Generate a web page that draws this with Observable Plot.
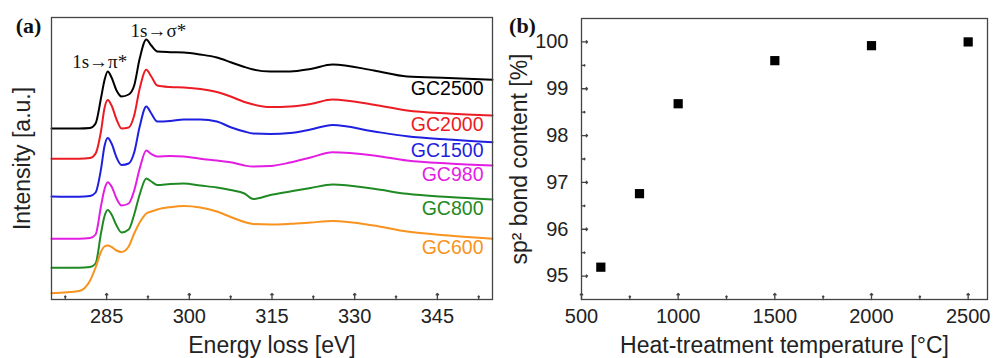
<!DOCTYPE html>
<html><head><meta charset="utf-8">
<script src="https://cdn.jsdelivr.net/npm/d3@7"></script>
<script src="https://cdn.jsdelivr.net/npm/@observablehq/plot@0.6"></script>
<style>
body{margin:0;background:#fff}
#wrap{display:flex;width:999px;height:358px;overflow:hidden}
</style>
</head><body><div id="wrap"></div>
<script>
// ---- Panel (a): EELS spectra (arbitrary intensity units) ----
const energy = [275, 280, 282, 283, 284, 284.6, 285.2, 285.9, 286.8, 287.7, 289, 290, 291, 292.2, 293.1, 294.2, 296.5, 299, 302, 305, 307.5, 310, 311.6, 314.7, 318.3, 322, 326, 333.5, 339.5, 347, 355];
const GC2500 = [171, 171, 171.5, 176, 202, 219, 228, 222, 209, 203, 205, 214, 241, 260, 254, 248, 247.3, 247, 245, 242, 237.3, 232.5, 230, 228, 228, 230.5, 235, 229, 223, 221.5, 219.7];
const GC2000 = [140.7, 140.7, 141.5, 146, 169, 191, 199.5, 194, 180, 171, 172, 184, 211, 229.7, 223, 214, 212.5, 212, 210.5, 207.5, 203, 197.5, 195, 192.5, 193, 195.5, 200, 194.7, 189, 186, 184];
const GC1500 = [103, 102.7, 103.5, 107, 131, 153, 161.5, 156, 142, 134.5, 136, 147, 173, 193, 186, 178, 178.5, 180, 180, 178, 172.3, 168, 166, 165.5, 166.5, 170, 174.5, 168, 163.3, 160, 157.3];
const GC980  = [60.7, 60.7, 61.5, 65, 94, 110, 117.3, 113, 101, 94, 96, 109, 131, 149, 145.5, 143, 143.5, 143, 140.7, 139, 137.3, 134, 133, 133.5, 137, 142, 147.3, 144, 139, 136, 134];
const GC800  = [31.7, 31.7, 32.5, 36, 67, 83, 89.5, 85, 74, 67, 70, 85, 105, 121, 118, 114.5, 115.5, 116, 114, 112, 109.5, 106, 100.5, 104.5, 108, 111.5, 115, 110.7, 105.7, 102.5, 100];
const GC600  = [6.3, 8.5, 19, 32, 48, 53, 54, 52.5, 49, 47.5, 53, 66, 77, 86, 88, 90, 92.3, 93.5, 92, 88, 82.5, 77.5, 75.5, 75, 75.7, 77, 78.5, 74, 68, 64, 60.7];
const seriesNames = ["GC2500", "GC2000", "GC1500", "GC980", "GC800", "GC600"];
const seriesValues = [GC2500, GC2000, GC1500, GC980, GC800, GC600];
const seriesColors = ["#000000", "#ec1c24", "#1f1fe0", "#e31ee3", "#1f8a24", "#f7931e"];
const xTicksA = [285, 300, 315, 330, 345];
const xMinorA = [277.5, 292.5, 307.5, 322.5, 337.5, 352.5];
const peakLabels = ["1s\u2192\u03c0*", "1s\u2192\u03c3*"];

// ---- Panel (b): sp2 content ----
const temperature = [600, 800, 1000, 1500, 2000, 2500];
const sp2Content = [95.19, 96.76, 98.68, 99.60, 99.92, 100.0];
const xTicksB = [500, 1000, 1500, 2000, 2500];
const xMinorB = [750, 1250, 1750, 2250];
const yTicksB = [95, 96, 97, 98, 99, 100];
const yMinorB = [95.5, 96.5, 97.5, 98.5, 99.5];

const SANS = "'Liberation Sans', Arial, sans-serif";
const SERIF = "'Liberation Serif', 'Times New Roman', serif";
const INK = "#222";
const FRAME = "#444";
const plain = d => String(d);

// inward tick marks drawn as short vectors from the frame edge
const ticksBottom = (values, len) => Plot.vector(values, {x: d => d, frameAnchor: "bottom", rotate: 0, length: len, anchor: "start", stroke: FRAME, strokeWidth: 1.3});
const ticksLeft = (values, len) => Plot.vector(values, {y: d => d, frameAnchor: "left", rotate: 90, length: len, anchor: "start", stroke: FRAME, strokeWidth: 1.3});

const rows = seriesNames.flatMap((s, i) => energy.map((e, j) => ({series: s, energy: e, value: seriesValues[i][j]})));
const endRows = seriesNames.map((s, i) => ({series: s, energy: energy[energy.length - 1], value: seriesValues[i][seriesValues[i].length - 1]}));
// peak positions of the top spectrum
const piIdx = d3.maxIndex(energy.map((e, j) => e < 288 ? GC2500[j] : -Infinity));
const sigIdx = d3.maxIndex(GC2500);
const peakRows = [
  {label: peakLabels[0], energy: energy[piIdx], value: GC2500[piIdx], dx: -8, dy: -10},
  {label: peakLabels[1], energy: energy[sigIdx], value: GC2500[sigIdx], dx: 12, dy: -9}
];

const plotA = Plot.plot({
  width: 500, height: 358,
  marginLeft: 51, marginRight: 8, marginTop: 17, marginBottom: 59,
  style: {fontFamily: SANS, fontSize: "19px", color: INK, background: "#fff"},
  x: {domain: [275, 355]},
  y: {domain: [0, 282], axis: null},
  color: {domain: seriesNames, range: seriesColors},
  marks: [
    Plot.axisX(xTicksA, {tickSize: 0, tickPadding: 9, fontSize: 20, tickFormat: plain, label: null}),
    ticksBottom(xTicksA, 6),
    ticksBottom(xMinorA, 3.5),
    Plot.line(rows, {x: "energy", y: "value", z: "series", stroke: "series", strokeWidth: 2, curve: "monotone-x"}),
    Plot.frame({stroke: FRAME, strokeWidth: 1.3}),
    Plot.text(endRows, {frameAnchor: "right", y: "value", text: "series", fill: "series", textAnchor: "end", lineAnchor: "middle", dx: -9, dy: 9, fontSize: 19.5}),
    ...peakRows.map(p => Plot.text([p], {x: "energy", y: "value", text: "label", fontFamily: SERIF, fontSize: 19, fill: "#111", textAnchor: "middle", lineAnchor: "middle", dx: p.dx, dy: p.dy})),
    Plot.text(["(a)"], {frameAnchor: "top-left", dx: -23, dy: 8, fontFamily: SERIF, fontWeight: "bold", fontSize: 22, fill: "#111", textAnchor: "middle", lineAnchor: "middle"}),
    Plot.text(["Energy loss [eV]"], {frameAnchor: "bottom", dy: 46, fontSize: 23, fill: INK, textAnchor: "middle", lineAnchor: "middle"}),
    Plot.text(["Intensity [a.u.]"], {frameAnchor: "left", dx: -29, rotate: -90, fontSize: 23, fill: INK, textAnchor: "middle", lineAnchor: "middle"})
  ]
});

const plotB = Plot.plot({
  width: 499, height: 358,
  marginLeft: 81, marginRight: 12, marginTop: 18, marginBottom: 59,
  style: {fontFamily: SANS, fontSize: "19px", color: INK, background: "#fff"},
  x: {domain: [500, 2600]},
  y: {domain: [94.5, 100.5]},
  marks: [
    Plot.axisX(xTicksB, {tickSize: 0, tickPadding: 9, fontSize: 20, tickFormat: plain, label: null}),
    Plot.axisY(yTicksB, {tickSize: 0, tickPadding: 13, fontSize: 20, tickFormat: plain, label: null}),
    ticksBottom(xTicksB, 6),
    ticksBottom(xMinorB, 3.5),
    ticksLeft(yTicksB, 6),
    ticksLeft(yMinorB, 3.5),
    Plot.frame({stroke: FRAME, strokeWidth: 1.3}),
    Plot.dot(temperature.map((t, i) => ({t, v: sp2Content[i]})), {x: "t", y: "v", symbol: "square", r: 5.2, fill: "#000", stroke: "none"}),
    Plot.text(["(b)"], {frameAnchor: "top-left", dx: -59, dy: 7, fontFamily: SERIF, fontWeight: "bold", fontSize: 22, fill: "#111", textAnchor: "middle", lineAnchor: "middle"}),
    Plot.text(["Heat-treatment temperature [\u00b0C]"], {frameAnchor: "bottom", dy: 46, fontSize: 23, fill: INK, textAnchor: "middle", lineAnchor: "middle"}),
    Plot.text(["sp\u00b2 bond content [%]"], {frameAnchor: "left", dx: -62, rotate: -90, fontSize: 23, fill: INK, textAnchor: "middle", lineAnchor: "middle"})
  ]
});

const wrap = document.getElementById("wrap");
wrap.appendChild(plotA);
wrap.appendChild(plotB);
</script>
</body></html>
